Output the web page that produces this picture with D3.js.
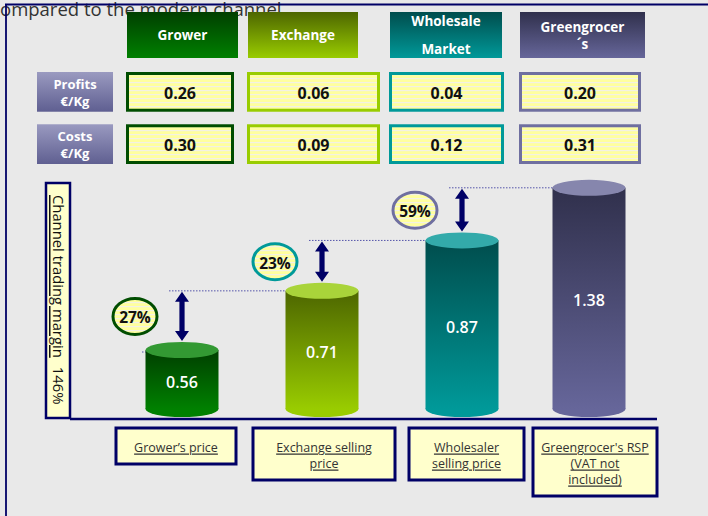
<!DOCTYPE html>
<html>
<head>
<meta charset="utf-8">
<script src="https://cdn.jsdelivr.net/npm/d3@7"></script>
<style>
  body { margin: 0; background: #e9e9e9; }
  svg { display: block; font-family: "Open Sans", "DejaVu Sans", sans-serif; }
</style>
</head>
<body>
<svg id="chart"></svg>
<script>
// data
const channels = ['Grower', 'Exchange', 'Wholesale', 'Greengrocer']
const headerLines = [['Grower'], ['Exchange'], ['Wholesale', 'Market'], ['Greengrocer', '´s']]
const profits = [0.26, 0.06, 0.04, 0.20]
const costs = [0.30, 0.09, 0.12, 0.31]
const prices = [0.56, 0.71, 0.87, 1.38]
const priceLabels = [['Grower’s price'], ['Exchange selling', 'price'], ['Wholesaler', 'selling price'], ['Greengrocer\'s RSP', '(VAT not', 'included)']]
const rowNames = ['Profits', 'Costs']
const titleText = 'ompared to the modern channel'
const marginLabel = 'Channel trading margin'

let svgWidth = 708, svgHeight = 516
let navy = '#000066'
let svg = d3.select('#chart').attr('width', svgWidth).attr('height', svgHeight)

// colours per channel
const colors = {
  Grower:      { top: '#003f00', bottom: '#008000', cap: '#339933', border: '#004d00' },
  Exchange:    { top: '#4d6600', bottom: '#99cc00', cap: '#a9d43a', border: '#99cc00' },
  Wholesale:   { top: '#004d4d', bottom: '#009999', cap: '#33aaaa', border: '#009999' },
  Greengrocer: { top: '#30304c', bottom: '#66669a', cap: '#8686ad', border: '#6f6fa0' }
}
const bubbleColor = [colors.Grower.border, colors.Wholesale.border, colors.Greengrocer.border]

// layout scales
let headerX = d3.scaleOrdinal().domain(channels).range([127, 248, 390, 520])
let headerW = d3.scaleOrdinal().domain(channels).range([111, 110, 112, 125])
let cellX = d3.scaleOrdinal().domain(channels).range([126, 247, 389, 519])
let cellW = d3.scaleOrdinal().domain(channels).range([108, 133, 115, 122])
let rowY = d3.scaleBand().domain(rowNames).range([72, 164]).paddingInner(0.24)
let cylX = d3.scaleOrdinal().domain(channels).range([182, 322, 462, 589])
let labX = d3.scaleOrdinal().domain(channels).range([116, 253, 409, 533])
let labW = d3.scaleOrdinal().domain(channels).range([120, 142, 115, 124])
let baseY = 409
// the original drawing is not to scale, so heights follow a piecewise scale
let heightScale = d3.scaleLinear().domain([0.5, 0.7, 0.9, 1.4]).range([35, 115, 178, 223])
let topY = v => baseY - heightScale(v)
let cylW = 73, ry = 8
let pct = d3.format('.0%')

// defs
let defs = svg.append('defs')
let pat = defs.append('pattern').attr('id', 'stripes').attr('patternUnits', 'userSpaceOnUse')
  .attr('width', 4).attr('height', 4)
pat.append('rect').attr('width', 4).attr('height', 4).attr('fill', '#ffff9e')
pat.append('rect').attr('y', 2).attr('width', 4).attr('height', 1.2).attr('fill', '#f3f1e4')

channels.forEach(c => {
  let g = defs.append('linearGradient').attr('id', `grad_${c}`).attr('x1', 0).attr('y1', 0).attr('x2', 0).attr('y2', 1)
  g.append('stop').attr('offset', '0%').attr('stop-color', colors[c].top)
  g.append('stop').attr('offset', '100%').attr('stop-color', colors[c].bottom)
})
let rg = defs.append('linearGradient').attr('id', 'grad_row').attr('x1', 0).attr('y1', 0).attr('x2', 0).attr('y2', 1)
rg.append('stop').attr('offset', '0%').attr('stop-color', '#9a9ac0')
rg.append('stop').attr('offset', '100%').attr('stop-color', '#5f5f91')

// frame + cut-off title
svg.append('text').text(titleText).attr('x', 0).attr('y', 16)
  .style('font-size', '18.5px').attr('fill', '#333')
svg.append('line').attr('x1', 5).attr('x2', svgWidth).attr('y1', 4.5).attr('y2', 4.5)
  .attr('stroke', navy).attr('stroke-width', 1.8)
svg.append('line').attr('x1', 6).attr('x2', 6).attr('y1', 4).attr('y2', svgHeight)
  .attr('stroke', navy).attr('stroke-width', 1.8)

// header boxes
let heads = svg.selectAll('g.head').data(channels).enter().append('g').attr('class', 'head')
heads.append('rect')
  .attr('x', d => headerX(d)).attr('y', 12).attr('width', d => headerW(d)).attr('height', 46)
  .attr('fill', d => `url(#grad_${d})`)
heads.each(function(d, i) {
  let lines = headerLines[i]
  let step = lines.length > 1 ? (d === 'Wholesale' ? 28 : 17) : 0
  let y0 = 35 - step * (lines.length - 1) / 2
  d3.select(this).selectAll('text').data(lines).enter().append('text')
    .text(t => t)
    .attr('x', headerX(d) + headerW(d) / 2).attr('y', (t, j) => y0 + j * step)
    .attr('text-anchor', 'middle').attr('dominant-baseline', 'central')
    .attr('fill', 'white').style('font-size', '13.5px').style('font-weight', 700)
})

// row labels
rowNames.forEach(r => {
  svg.append('rect').attr('x', 37).attr('y', rowY(r)).attr('width', 76).attr('height', rowY.bandwidth())
    .attr('fill', 'url(#grad_row)')
  svg.append('text').attr('x', 75).attr('y', rowY(r) + rowY.bandwidth() / 2 - 8)
    .attr('text-anchor', 'middle').attr('dominant-baseline', 'central')
    .attr('fill', 'white').style('font-size', '13px').style('font-weight', 700).text(r)
  svg.append('text').attr('x', 75).attr('y', rowY(r) + rowY.bandwidth() / 2 + 9)
    .attr('text-anchor', 'middle').attr('dominant-baseline', 'central')
    .attr('fill', 'white').style('font-size', '13px').style('font-weight', 700).text('€/Kg')
})

// value cells
const rows = [profits, costs]
rows.forEach((vals, ri) => {
  let r = rowNames[ri]
  let cells = svg.selectAll(`g.cell${ri}`).data(channels).enter().append('g').attr('class', `cell${ri}`)
  cells.append('rect')
    .attr('x', d => cellX(d) + 1.5).attr('y', rowY(r) + 1.5)
    .attr('width', d => cellW(d) - 3).attr('height', rowY.bandwidth() - 3)
    .attr('fill', 'url(#stripes)').attr('stroke', d => colors[d].border).attr('stroke-width', 3)
  cells.append('text').text((d, i) => vals[i].toFixed(2))
    .attr('x', d => cellX(d) + cellW(d) / 2).attr('y', rowY(r) + rowY.bandwidth() / 2 + 1)
    .attr('text-anchor', 'middle').attr('dominant-baseline', 'central')
    .style('font-size', '16px').style('font-weight', 700).attr('fill', '#111')
})

// vertical margin box
svg.append('rect').attr('x', 46).attr('y', 183).attr('width', 24).attr('height', 235)
  .attr('fill', '#ffffcc').attr('stroke', navy).attr('stroke-width', 2.5)
let vt = svg.append('text').attr('transform', 'translate(58.5,195) rotate(90)')
  .attr('dominant-baseline', 'central').style('font-size', '14.8px').attr('fill', '#111')
vt.append('tspan').text(marginLabel).style('text-decoration', 'underline')
vt.append('tspan').text(pct((prices[3] - prices[0]) / prices[0])).attr('dx', 9)

// dotted guide lines
for (let i = 0; i < channels.length - 1; i++) {
  let c = channels[i], n = channels[i + 1]
  let yN = topY(prices[i + 1])
  let ax = cylX(c)
  svg.append('line').attr('x1', ax - 13).attr('x2', cylX(n) - 12).attr('y1', yN).attr('y2', yN)
    .attr('stroke', '#5555aa').attr('stroke-width', 1).attr('stroke-dasharray', '1.5,1.5')
}
// short dotted stub on the first cylinder
svg.append('line').attr('x1', cylX(channels[0]) - 40).attr('x2', cylX(channels[0])).attr('y1', topY(prices[0]) + 2).attr('y2', topY(prices[0]) + 2)
  .attr('stroke', '#5555aa').attr('stroke-width', 1).attr('stroke-dasharray', '1.5,1.5')

// cylinders
let cyl = svg.selectAll('g.cyl').data(channels).enter().append('g').attr('class', 'cyl')
cyl.append('ellipse').attr('cx', d => cylX(d)).attr('cy', baseY).attr('rx', cylW / 2).attr('ry', ry)
  .attr('fill', d => colors[d].bottom)
cyl.append('rect').attr('x', d => cylX(d) - cylW / 2).attr('y', (d, i) => topY(prices[i]))
  .attr('width', cylW).attr('height', (d, i) => baseY - topY(prices[i]))
  .attr('fill', d => `url(#grad_${d})`)
cyl.append('ellipse').attr('cx', d => cylX(d)).attr('cy', (d, i) => topY(prices[i])).attr('rx', cylW / 2).attr('ry', ry)
  .attr('fill', d => colors[d].cap)
cyl.append('text').text((d, i) => prices[i].toFixed(2))
  .attr('x', d => cylX(d)).attr('y', (d, i) => (topY(prices[i]) + baseY) / 2 + 2)
  .attr('text-anchor', 'middle').attr('dominant-baseline', 'central')
  .attr('fill', 'white').style('font-size', '16px').style('font-weight', 600)

// arrows and margin bubbles
for (let i = 0; i < channels.length - 1; i++) {
  let c = channels[i]
  let y1 = topY(prices[i + 1]) + 1, y2 = topY(prices[i]) - ry - 1
  let ax = cylX(c), hw = 7, hl = 10, sw = 2.6
  let p = d3.path()
  p.moveTo(ax, y1); p.lineTo(ax + hw, y1 + hl); p.lineTo(ax + sw, y1 + hl); p.lineTo(ax + sw, y2 - hl)
  p.lineTo(ax + hw, y2 - hl); p.lineTo(ax, y2); p.lineTo(ax - hw, y2 - hl); p.lineTo(ax - sw, y2 - hl)
  p.lineTo(ax - sw, y1 + hl); p.lineTo(ax - hw, y1 + hl); p.closePath()
  svg.append('path').attr('d', p.toString()).attr('fill', navy)

  let bx = ax - 47, by = (y1 + y2) / 2
  svg.append('ellipse').attr('cx', bx).attr('cy', by).attr('rx', 22).attr('ry', 18)
    .attr('fill', 'url(#stripes)').attr('stroke', bubbleColor[i]).attr('stroke-width', 3)
  svg.append('text').text(pct((prices[i + 1] - prices[i]) / prices[i]))
    .attr('x', bx).attr('y', by + 1).attr('text-anchor', 'middle').attr('dominant-baseline', 'central')
    .style('font-size', '15.5px').style('font-weight', 700).attr('fill', '#111')
}

// baseline
svg.append('line').attr('x1', 70).attr('x2', 657).attr('y1', 419).attr('y2', 419)
  .attr('stroke', navy).attr('stroke-width', 2.5)

// bottom labels
let lineStep = 16
let labs = svg.selectAll('g.lab').data(channels).enter().append('g').attr('class', 'lab')
labs.append('rect').attr('x', d => labX(d)).attr('y', 428).attr('width', d => labW(d))
  .attr('height', (d, i) => 20 + lineStep * priceLabels[i].length)
  .attr('fill', '#ffffcc').attr('stroke', navy).attr('stroke-width', 3)
labs.each(function(d, i) {
  d3.select(this).selectAll('text').data(priceLabels[i]).enter().append('text')
    .text(t => t)
    .attr('x', labX(d) + labW(d) / 2).attr('y', (t, j) => 447 + j * lineStep)
    .attr('text-anchor', 'middle').attr('dominant-baseline', 'central')
    .style('font-size', '12.5px').style('text-decoration', 'underline').attr('fill', '#333')
})
</script>
</body>
</html>
